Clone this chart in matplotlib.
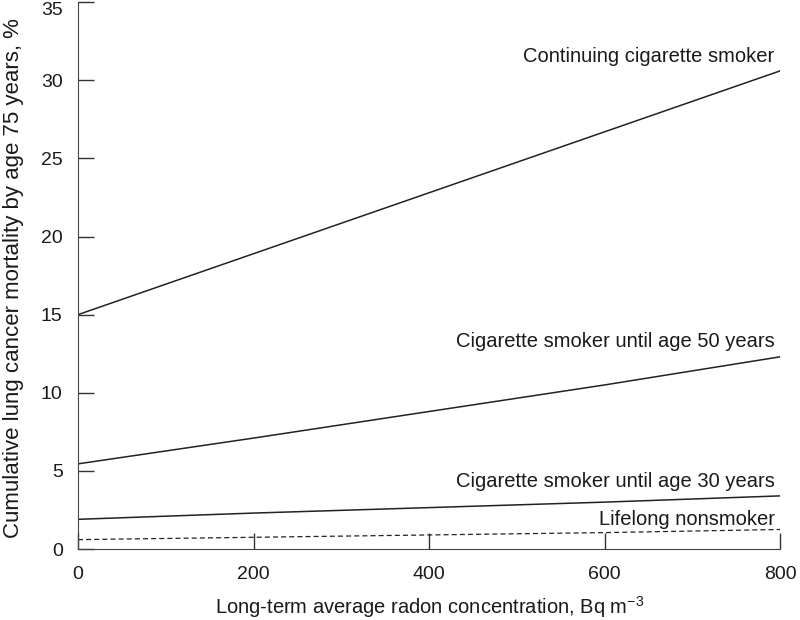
import matplotlib.pyplot as plt
import numpy as np

plt.rcParams['font.family'] = ['Liberation Sans', 'DejaVu Sans']
plt.rcParams['mathtext.default'] = 'regular'

# radon concentration, Bq/m3
radon = [0, 200, 400, 600, 800]
# cumulative mortality by age 75, %
continuing = [15.0, 18.9, 22.8, 26.7, 30.6]
until50 = [5.45, 7.1, 8.8, 10.5, 12.3]
until30 = [1.9, 2.3, 2.65, 3.0, 3.4]
nonsmoker = [0.6, 0.75, 0.9, 1.05, 1.25]

labels = ['Continuing cigarette smoker', 'Cigarette smoker until age 50 years',
          'Cigarette smoker until age 30 years', 'Lifelong nonsmoker']
label_y = [31.5, 13.3, 4.35, 1.9]

fig = plt.figure(figsize=(8, 6.2), dpi=100)
ax = fig.add_axes([0.0975, 0.1145, 0.8775, 0.882])

ax.plot(radon, continuing, color='#222222', lw=1.1)
ax.plot(radon, until50, color='#222222', lw=1.1)
ax.plot(radon, until30, color='#222222', lw=1.1)
ax.plot(radon, nonsmoker, color='#222222', lw=0.9, ls=(0, (4, 2.5)))

for txt, yy in zip(labels, label_y):
    ax.text(794, yy, txt, ha='right', va='center', fontsize=14.5, color='#1a1a1a')

ax.set_xlim(0, 800)
ax.set_ylim(0, 35)
ax.set_xticks([0, 200, 400, 600, 800])
ax.set_yticks(np.arange(0, 36, 5))
ax.tick_params(direction='in', length=11.5, width=1, colors='#333333', labelsize=14,
               labelcolor='#1a1a1a')
ax.tick_params(axis='x', pad=12)
ax.tick_params(axis='y', pad=11)
ax.get_yticklabels()[-1].set_verticalalignment('top')
for s in ['top', 'right']:
    ax.spines[s].set_visible(False)
for s in ['left', 'bottom']:
    ax.spines[s].set_color('#444444')

ax.set_xlabel('Long-term average radon concentration, Bq m$^{-3}$', fontsize=14.5,
              color='#1a1a1a')
ax.set_ylabel('Cumulative lung cancer mortality by age 75 years, %', fontsize=16,
              color='#1a1a1a')
ax.xaxis.set_label_coords(0.501, -0.082)
ax.yaxis.set_label_coords(-0.077, 0.495)

fig.savefig('out.png', dpi=100)
